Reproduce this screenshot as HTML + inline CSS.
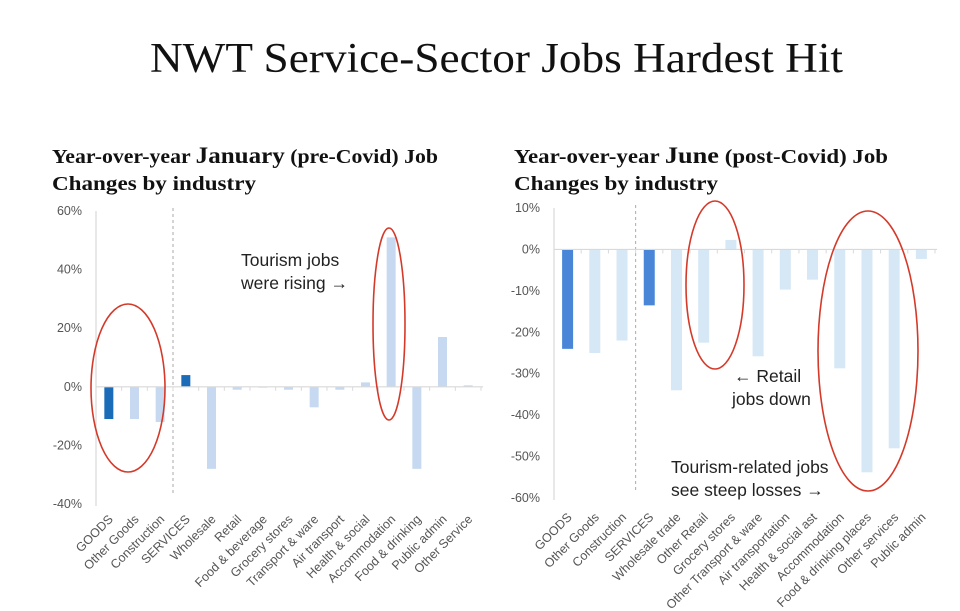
<!DOCTYPE html>
<html><head><meta charset="utf-8">
<style>
html,body{margin:0;padding:0;background:#fff;}
body{width:960px;height:611px;overflow:hidden;position:relative;}
svg{position:absolute;left:0;top:0;}
</style></head>
<body>
<svg id="s" width="960" height="611" xmlns="http://www.w3.org/2000/svg">
  <text x="150" y="72" textLength="693" lengthAdjust="spacingAndGlyphs" font-family="Liberation Serif, serif" font-size="42" fill="#111">NWT Service-Sector Jobs Hardest Hit</text>
  <text x="52" y="163" textLength="386" lengthAdjust="spacingAndGlyphs" font-family="Liberation Serif, serif" font-weight="bold" font-size="20" fill="#111">Year-over-year <tspan font-size="23">January</tspan> (pre-Covid) Job</text>
  <text x="52" y="190" textLength="204" lengthAdjust="spacingAndGlyphs" font-family="Liberation Serif, serif" font-weight="bold" font-size="20" fill="#111">Changes by industry</text>
  <text x="514" y="163" textLength="374" lengthAdjust="spacingAndGlyphs" font-family="Liberation Serif, serif" font-weight="bold" font-size="20" fill="#111">Year-over-year <tspan font-size="23">June</tspan> (post-Covid) Job</text>
  <text x="514" y="190" textLength="204" lengthAdjust="spacingAndGlyphs" font-family="Liberation Serif, serif" font-weight="bold" font-size="20" fill="#111">Changes by industry</text>
  <g id="left"></g>
  <g id="right"></g>
  <g font-family="Liberation Sans, sans-serif" font-size="17.5" fill="#222">
    <text x="241" y="266">Tourism jobs</text>
    <text x="241" y="289">were rising  →</text>
    <text x="734" y="382">← Retail</text>
    <text x="732" y="405">jobs down</text>
    <text x="671" y="473">Tourism-related jobs</text>
    <text x="671" y="496">see steep losses    →</text>
  </g>
  <g fill="none" stroke="#d43a2a" stroke-width="1.6">
    <ellipse cx="128" cy="388" rx="37" ry="84"/>
    <ellipse cx="389" cy="324" rx="16" ry="96"/>
    <ellipse cx="715" cy="285" rx="29" ry="84"/>
    <ellipse cx="868" cy="351" rx="50" ry="140"/>
  </g>
</svg>
<script>
const NS="http://www.w3.org/2000/svg";
const janCategories=["GOODS","Other Goods","Construction","SERVICES","Wholesale","Retail","Food & beverage","Grocery stores","Transport & ware","Air transport","Health & social","Accommodation","Food & drinking","Public admin","Other Service"];
const janValues=[-11,-11,-12,4,-28,-1,-0.3,-1,-7,-1,1.5,51,-28,17,0.5];
const janTicks=[60,40,20,0,-20,-40];
const junCategories=["GOODS","Other Goods","Construction","SERVICES","Wholesale trade","Other Retail","Grocery stores","Other Transport & ware","Air transportation","Health & social ast","Accommodation","Food & drinking places","Other services","Public admin"];
const junValues=[-24,-25,-22,-13.5,-34,-22.5,2.3,-25.8,-9.7,-7.3,-28.7,-53.8,-48,-2.3];
const junTicks=[10,0,-10,-20,-30,-40,-50,-60];

function mk(tag,attrs,parent){const e=document.createElementNS(NS,tag);for(const k in attrs)e.setAttribute(k,attrs[k]);parent.appendChild(e);return e;}

function draw(g,cats,vals,ticks,o){
  const y=v=>o.y0+(o.vmax-v)*(o.y1-o.y0)/(o.vmax-o.vmin);
  const step=(o.x1-o.x0)/cats.length;
  const xc=i=>o.x0+step*(i+0.5);
  ticks.forEach(t=>{
    const tx=mk("text",{x:o.x0-14,y:y(t)+4,"text-anchor":"end","font-family":"Liberation Sans, sans-serif","font-size":"12.5",fill:"#555"},g);
    tx.textContent=t+"%";
    
    
  });
  const ax=mk("line",{x1:o.x0,x2:o.x0,y1:y(o.vmax),y2:y(o.vmin)+2,stroke:"#d9d9d9","stroke-width":"1.2"},g);
  
  
  const sx=o.x0+step*o.sepAfter;
  const sep=mk("line",{x1:sx,x2:sx,y1:y(o.vmax)-3,y2:y(o.vmin)-8,stroke:"#aaa","stroke-width":"1","stroke-dasharray":"3,3"},g);
  
  
  vals.forEach((v,i)=>{
    const top=y(Math.max(v,0)),bot=y(Math.min(v,0));
    const dark=(i===0||i===o.sepAfter);
    const r=mk("rect",{x:xc(i)-o.bw/2,y:top,width:o.bw,height:Math.max(bot-top,0.8),fill:dark?o.dark:o.light},g);
    
    
    const lx=xc(i)+5,ly=o.labY;
    const t=mk("text",{x:lx,y:ly,"text-anchor":"end","font-family":"Liberation Sans, sans-serif","font-size":"12.5",fill:"#555",transform:`rotate(-45 ${lx} ${ly})`},g);
    t.textContent=cats[i];
    
    
  });
  const z=mk("line",{x1:o.x0,x2:o.x1+2,y1:y(0),y2:y(0),stroke:"#d9d9d9","stroke-width":"1.2"},g);
  
  
  for(let i=0;i<=cats.length;i++){
    const tk=mk("line",{x1:o.x0+step*i,x2:o.x0+step*i,y1:y(0),y2:y(0)+4,stroke:"#d9d9d9"},g);
    
    
  }
}
draw(document.getElementById("left"),janCategories,janValues,janTicks,{x0:96,x1:481,y0:211,y1:504,vmax:60,vmin:-40,bw:9,sepAfter:3,dark:"#1a6cb8",light:"#c6d9f1",labY:520});
draw(document.getElementById("right"),junCategories,junValues,junTicks,{x0:554,x1:935,y0:208,y1:498,vmax:10,vmin:-60,bw:11,sepAfter:3,dark:"#4a86d8",light:"#d6e8f5",labY:518});
</script>
</body></html>
